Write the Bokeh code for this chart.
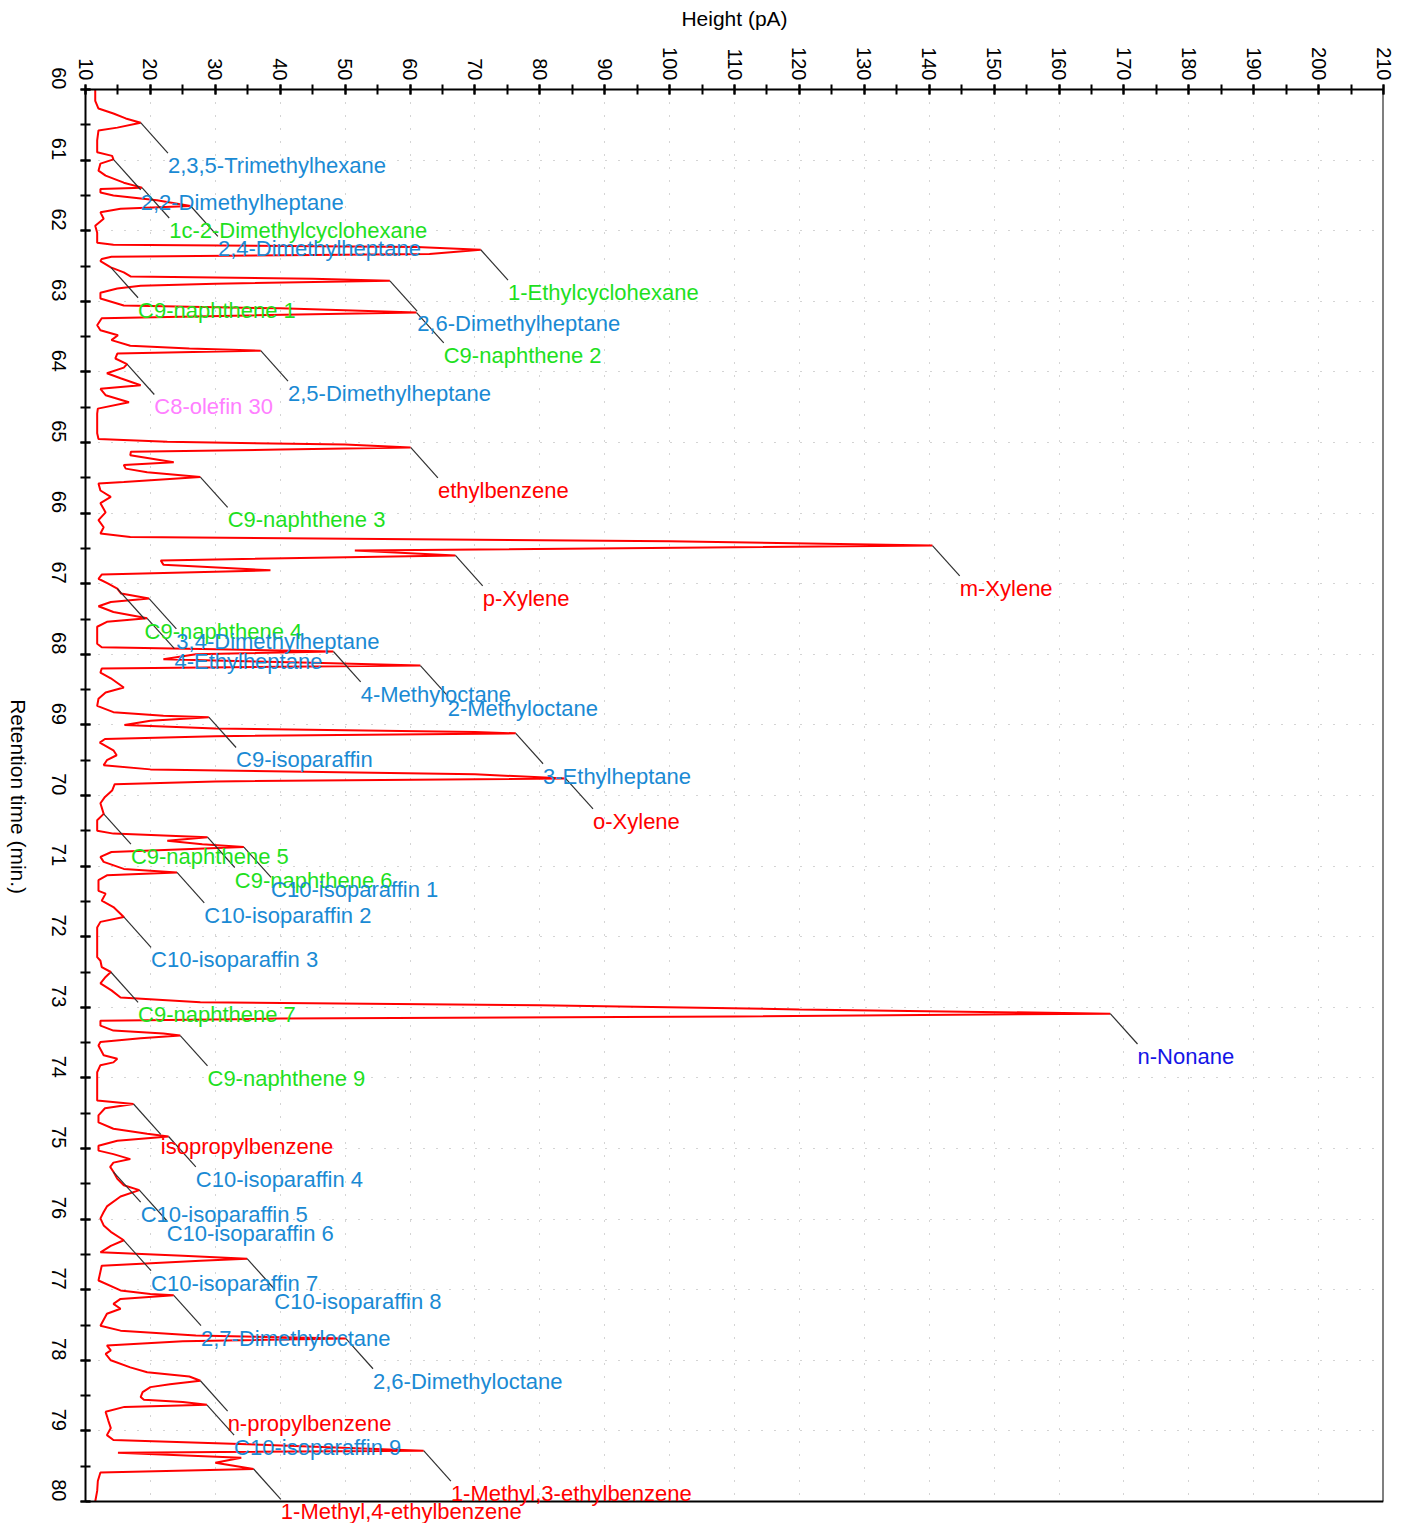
import math
from bokeh.plotting import figure
from bokeh.layouts import row
from bokeh.models import Range1d, SingleIntervalTicker, LabelSet, ColumnDataSource
from bokeh.embed import file_html
from bokeh.resources import INLINE
from bokeh.core.properties import value

# ---------------- data ----------------
trace_time = [
    60.00, 60.16, 60.27, 60.34, 60.41, 60.47, 60.54, 60.58, 60.72, 60.89,
    60.94, 60.99, 61.05, 61.15, 61.22, 61.32, 61.39, 61.41, 61.46, 61.50,
    61.57, 61.65, 61.69, 61.74, 61.83, 61.93, 62.03, 62.17, 62.20, 62.23,
    62.27, 62.33, 62.37, 62.40, 62.43, 62.52, 62.59, 62.65, 62.68, 62.71,
    62.75, 62.78, 62.82, 62.88, 62.96, 63.06, 63.10, 63.16, 63.20, 63.24,
    63.34, 63.41, 63.48, 63.55, 63.63, 63.67, 63.70, 63.74, 63.81, 63.89,
    63.94, 64.02, 64.09, 64.19, 64.24, 64.33, 64.43, 64.52, 64.59, 64.87,
    64.95, 64.99, 65.03, 65.07, 65.10, 65.13, 65.18, 65.28, 65.32, 65.37,
    65.42, 65.49, 65.56, 65.58, 65.68, 65.77, 65.86, 65.99, 66.10, 66.20,
    66.29, 66.34, 66.40, 66.46, 66.53, 66.60, 66.67, 66.73, 66.81, 66.87,
    66.93, 67.00, 67.07, 67.14, 67.21, 67.26, 67.32, 67.40, 67.49, 67.54,
    67.61, 67.85, 67.90, 67.93, 67.96, 68.00, 68.07, 68.12, 68.16, 68.20,
    68.26, 68.34, 68.47, 68.54, 68.63, 68.73, 68.82, 68.87, 68.89, 68.94,
    69.00, 69.05, 69.10, 69.12, 69.16, 69.20, 69.25, 69.36, 69.43, 69.50,
    69.57, 69.63, 69.70, 69.76, 69.80, 69.84, 69.93, 70.02, 70.11, 70.26,
    70.35, 70.50, 70.54, 70.59, 70.64, 70.69, 70.73, 70.80, 70.87, 70.94,
    71.04, 71.09, 71.13, 71.20, 71.35, 71.39, 71.49, 71.58, 71.72, 71.79,
    71.87, 72.29, 72.34, 72.43, 72.50, 72.57, 72.66, 72.76, 72.86, 72.93,
    72.97, 73.03, 73.09, 73.13, 73.16, 73.19, 73.26, 73.33, 73.37, 73.40,
    73.44, 73.49, 73.54, 73.68, 73.73, 73.78, 73.82, 73.92, 74.32, 74.37,
    74.43, 74.53, 74.63, 74.72, 74.79, 74.83, 74.89, 74.96, 75.03, 75.08,
    75.15, 75.20, 75.26, 75.33, 75.43, 75.52, 75.59, 75.68, 75.82, 75.90,
    75.99, 76.09, 76.18, 76.30, 76.38, 76.47, 76.52, 76.56, 76.59, 76.66,
    76.87, 77.01, 77.06, 77.08, 77.13, 77.20, 77.27, 77.34, 77.51, 77.58,
    77.65, 77.69, 77.73, 77.79, 77.86, 77.91, 78.00, 78.10, 78.17, 78.23,
    78.29, 78.34, 78.38, 78.45, 78.52, 78.56, 78.59, 78.63, 78.66, 78.73,
    78.85, 78.96, 79.06, 79.13, 79.19, 79.28, 79.31, 79.38, 79.45, 79.54,
    79.59, 79.71, 79.85, 80.00,
]
trace_height = [
    11.5, 11.5, 12.0, 14.3, 16.2, 18.5, 14.9, 12.0, 11.8, 11.8,
    14.1, 14.3, 12.3, 12.0, 13.1, 15.9, 18.7, 12.3, 12.3, 14.3,
    21.0, 26.2, 15.4, 12.3, 12.8, 11.5, 11.8, 11.8, 14.3, 61.0,
    70.9, 63.0, 14.0, 12.5, 12.3, 13.9, 15.9, 17.0, 45.0, 56.9,
    30.0, 18.5, 14.9, 12.3, 12.3, 15.9, 40.0, 61.0, 35.0, 12.5,
    11.8, 12.3, 15.0, 14.0, 16.9, 26.0, 37.0, 14.9, 14.6, 16.4,
    15.9, 13.3, 15.4, 18.5, 12.3, 13.1, 16.7, 11.9, 11.8, 11.8,
    12.0, 22.6, 50.0, 60.1, 40.0, 17.0, 16.9, 23.6, 15.9, 16.2,
    19.5, 27.7, 15.9, 12.0, 12.3, 13.9, 12.3, 13.1, 12.0, 12.8,
    12.3, 16.9, 100.0, 140.5, 51.5, 67.0, 21.6, 22.0, 38.5, 12.5,
    12.0, 13.5, 14.9, 15.5, 19.8, 13.9, 12.0, 14.3, 19.5, 13.3,
    11.8, 11.8, 12.5, 30.0, 48.2, 27.0, 22.0, 45.0, 61.6, 12.5,
    12.3, 13.9, 15.9, 13.1, 12.0, 11.8, 14.3, 22.0, 29.0, 20.0,
    16.0, 30.0, 70.0, 76.3, 30.0, 13.0, 12.2, 14.3, 14.8, 13.3,
    12.8, 20.0, 70.0, 84.0, 30.0, 14.5, 14.1, 13.0, 12.3, 12.8,
    11.8, 11.8, 14.3, 28.8, 22.6, 28.0, 34.4, 14.0, 12.3, 12.8,
    15.9, 24.1, 13.3, 12.0, 12.0, 13.1, 12.5, 14.3, 15.9, 12.3,
    11.8, 11.8, 12.3, 12.5, 13.9, 13.1, 12.3, 14.0, 15.4, 27.7,
    80.0, 120.0, 167.9, 110.0, 40.0, 12.3, 12.3, 14.3, 22.0, 24.6,
    18.5, 12.3, 12.0, 12.8, 14.9, 14.3, 12.3, 11.8, 11.8, 17.4,
    13.0, 12.0, 12.0, 14.3, 19.5, 22.8, 14.9, 12.0, 12.0, 14.3,
    16.9, 14.3, 13.8, 14.3, 14.9, 15.9, 18.3, 15.4, 13.3, 12.8,
    12.3, 12.8, 13.9, 15.9, 13.9, 12.3, 25.0, 34.9, 27.7, 12.5,
    12.0, 15.4, 20.0, 23.6, 15.4, 14.3, 15.4, 13.3, 12.3, 15.4,
    27.0, 50.1, 25.0, 13.3, 13.9, 13.1, 13.9, 16.9, 19.5, 26.0,
    27.7, 23.0, 20.0, 18.8, 18.5, 19.0, 25.0, 28.7, 16.0, 13.1,
    13.5, 13.9, 13.3, 14.3, 35.0, 62.1, 15.0, 34.0, 30.0, 35.9,
    12.3, 11.9, 11.8, 11.5,
]

peak_names = [
    "2,3,5-Trimethylhexane", "2,2-Dimethylheptane", "1c-2-Dimethylcyclohexane",
    "2,4-Dimethylheptane", "1-Ethylcyclohexane", "C9-naphthene 1",
    "2,6-Dimethylheptane", "C9-naphthene 2", "2,5-Dimethylheptane",
    "C8-olefin 30", "ethylbenzene", "C9-naphthene 3", "m-Xylene", "p-Xylene",
    "C9-naphthene 4", "3,4-Dimethylheptane", "4-Ethylheptane", "4-Methyloctane",
    "2-Methyloctane", "C9-isoparaffin", "3-Ethylheptane", "o-Xylene",
    "C9-naphthene 5", "C9-naphthene 6", "C10-isoparaffin 1", "C10-isoparaffin 2",
    "C10-isoparaffin 3", "C9-naphthene 7", "n-Nonane", "C9-naphthene 9",
    "isopropylbenzene", "C10-isoparaffin 4", "C10-isoparaffin 5",
    "C10-isoparaffin 6", "C10-isoparaffin 7", "C10-isoparaffin 8",
    "2,7-Dimethyloctane", "2,6-Dimethyloctane", "n-propylbenzene",
    "C10-isoparaffin 9", "1-Methyl,3-ethylbenzene", "1-Methyl,4-ethylbenzene",
]
peak_times = [
    60.47, 60.99, 61.39, 61.65, 62.27, 62.52, 62.71, 63.16, 63.70, 63.89,
    65.07, 65.49, 66.46, 66.60, 67.07, 67.21, 67.49, 67.96, 68.16, 68.89,
    69.12, 69.76, 70.26, 70.59, 70.73, 71.09, 71.72, 72.50, 73.09, 73.40,
    74.37, 74.83, 75.33, 75.59, 76.30, 76.56, 77.08, 77.69, 78.29, 78.63,
    79.28, 79.54,
]
peak_heights = [
    18.5, 14.3, 18.7, 26.2, 70.9, 13.9, 56.9, 61.0, 37.0, 16.4,
    60.1, 27.7, 140.5, 67.0, 14.9, 19.8, 19.5, 48.2, 61.6, 29.0,
    76.3, 84.0, 12.8, 28.8, 34.4, 24.1, 15.9, 13.9, 167.9, 24.6,
    17.4, 22.8, 14.3, 18.3, 15.9, 34.9, 23.6, 50.1, 27.7, 28.7,
    62.1, 35.9,
]
peak_groups = [
    "iso", "iso", "naph", "iso", "naph", "naph", "iso", "naph", "iso", "olefin",
    "arom", "naph", "arom", "arom", "naph", "iso", "iso", "iso", "iso", "iso",
    "iso", "arom", "naph", "naph", "iso", "iso", "iso", "naph", "nalk", "naph",
    "arom", "iso", "iso", "iso", "iso", "iso", "iso", "iso", "arom", "iso",
    "arom", "arom",
]

x_min, x_max, x_tick_step = 10, 210, 10
t_min, t_max, t_tick_step = 60, 80, 1
x_title = "Height (pA)"
y_title = "Retention time (min.)"

# ---------------- styling / layout ----------------
group_colors = {"iso": "#1a8ad4", "naph": "#1ee01e", "arom": "#ff0000",
                "olefin": "#ff80ff", "nalk": "#1414e6"}
LEAD_DH = 4.2    # leader line length in pA
LEAD_DT = 0.43   # leader line length in min
FONT = "Liberation Sans"
PX_PER_MIN = 70.6
BOTTOM_PAD_MIN = 22 / PX_PER_MIN   # room below the 80 min line for the last label
TOTAL_W, TOTAL_H = 1412, 1523
STRIP_W = 30                       # narrow strip holding the rotated y title
PLOT_LEFT = 85                     # x of the time axis on the page
Y_TITLE_POS = (18, 751)            # position of the y title inside the strip

# narrow strip with the y-axis title (reads top to bottom)
strip = figure(width=STRIP_W, height=TOTAL_H, x_range=Range1d(0, STRIP_W),
               y_range=Range1d(TOTAL_H, 0), output_backend="svg", toolbar_location=None,
               min_border=0, background_fill_color="white", border_fill_color="white")
strip.outline_line_color = None
strip.axis.visible = False
strip.grid.visible = False
strip.text(x=[Y_TITLE_POS[0]], y=[Y_TITLE_POS[1]], text=[y_title], angle=-math.pi / 2,
           text_align="center", text_baseline="middle", text_color="black",
           text_font=value(FONT), text_font_size="21px")

p = figure(width=TOTAL_W - STRIP_W, height=TOTAL_H,
           x_range=Range1d(x_min, x_max),
           y_range=Range1d(t_max + BOTTOM_PAD_MIN, t_min),
           x_axis_location="above", output_backend="svg", toolbar_location=None,
           min_border_left=PLOT_LEFT - STRIP_W, min_border_right=29,
           min_border_top=89, min_border_bottom=0,
           background_fill_color="white", border_fill_color="white")
p.outline_line_color = None

xa = p.xaxis[0]
ya = p.yaxis[0]
xa.ticker = SingleIntervalTicker(interval=x_tick_step, num_minor_ticks=2)
ya.ticker = SingleIntervalTicker(interval=t_tick_step, num_minor_ticks=2)
ya.bounds = (t_min, t_max)
for ax in (xa, ya):
    ax.axis_line_color = "black"
    ax.axis_line_width = 2
    ax.major_tick_in = 5
    ax.major_tick_out = 5
    ax.minor_tick_in = 5
    ax.minor_tick_out = 5
    ax.major_tick_line_width = 2
    ax.minor_tick_line_width = 2
    ax.major_tick_line_color = "black"
    ax.minor_tick_line_color = "black"
    ax.major_label_text_font = FONT
    ax.major_label_text_font_size = "20px"
    ax.major_label_text_color = "black"
    ax.major_label_orientation = -math.pi / 2
xa.major_label_standoff = 4
ya.major_label_standoff = 22
xa.axis_label = x_title
xa.axis_label_standoff = 14
xa.axis_label_text_font = FONT
xa.axis_label_text_font_size = "21px"
xa.axis_label_text_font_style = "normal"
xa.axis_label_text_color = "black"

for g in (p.xgrid[0], p.ygrid[0]):
    g.grid_line_color = "#a8a8a8"
    g.grid_line_dash = "1 12"
    g.grid_line_width = 1

# blank strip below the 80 min line (keeps the dotted grid inside the box)
p.quad(left=[x_min], right=[x_max + 5], top=[t_max], bottom=[t_max + BOTTOM_PAD_MIN],
       fill_color="white", line_color=None)

# chromatogram trace
p.line(trace_height, trace_time, line_color="#ff0000", line_width=2)

# right and bottom sides of the box
p.segment(x0=[x_max, x_min], y0=[t_min, t_max], x1=[x_max, x_max], y1=[t_max, t_max],
          line_color="black", line_width=2)

# leader lines and peak labels
lab = ColumnDataSource(dict(
    h=peak_heights, t=peak_times,
    lh=[h + LEAD_DH for h in peak_heights],
    lt=[t + LEAD_DT for t in peak_times],
    name=peak_names,
    color=[group_colors[g] for g in peak_groups],
))
p.segment(x0="h", y0="t", x1="lh", y1="lt", source=lab, line_color="#303030", line_width=1.2)
p.add_layout(LabelSet(x="lh", y="lt", text="name", source=lab, text_color="color",
                      text_font=value(FONT), text_font_size="22px",
                      text_align="left", text_baseline="top"))

layout = row(strip, p, spacing=0)
open("out.html", "w").write(file_html(layout, INLINE))
